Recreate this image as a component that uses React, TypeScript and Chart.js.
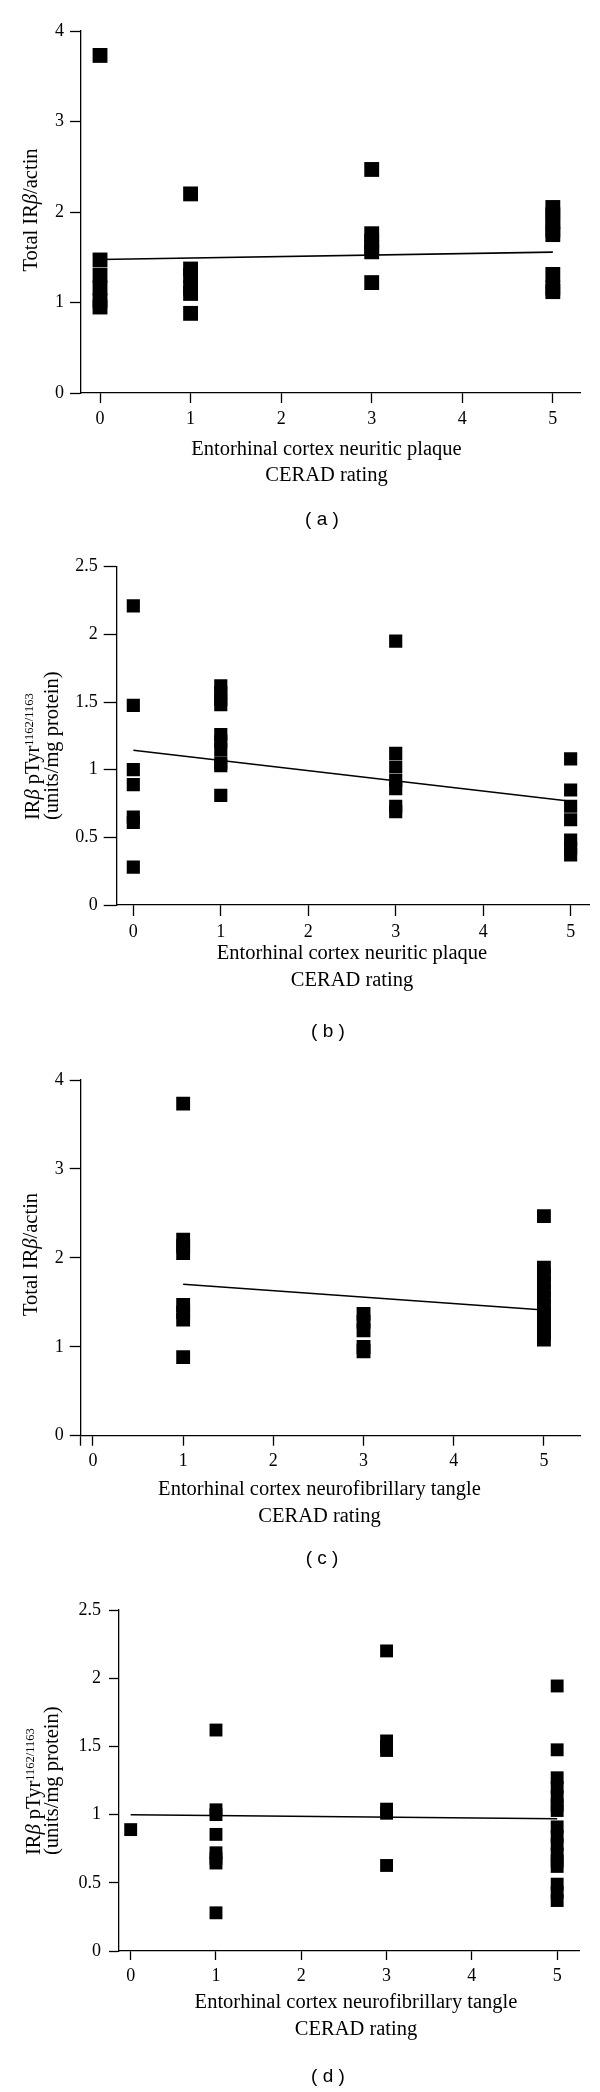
import React, { useEffect, useRef } from 'react';
import { Chart, registerables } from 'chart.js';

Chart.register(...registerables);

const SERIF = '"Liberation Serif", "Times New Roman", serif';
const SANS = '"Liberation Sans", Arial, sans-serif';

// ---- shared tick values ----
const xTickValues = [0, 1, 2, 3, 4, 5];
const yTicksTotal = [0, 1, 2, 3, 4];
const yTicksPTyr = [0, 0.5, 1, 1.5, 2, 2.5];

// ---- axis titles ----
const xTitlePlaque = ['Entorhinal cortex neuritic plaque', 'CERAD rating'];
const xTitleTangle = ['Entorhinal cortex neurofibrillary tangle', 'CERAD rating'];

type Seg = { t: string; italic?: boolean; sup?: boolean };
const yTitleTotal: Seg[][] = [[{ t: 'Total IR' }, { t: 'β', italic: true }, { t: '/actin' }]];
const yTitlePTyr: Seg[][] = [
  [{ t: 'IR' }, { t: 'β', italic: true }, { t: ' pTyr' }, { t: '1162/1163', sup: true }],
  [{ t: '(units/mg protein)' }],
];

// ---- (a) total IRβ vs neuritic plaque rating ----
const aRating0 = [3.73, 1.47, 1.3, 1.16, 1.02, 0.95];
const aRating1 = [2.2, 1.37, 1.3, 1.16, 1.1, 0.88];
const aRating3 = [2.47, 1.76, 1.68, 1.61, 1.56, 1.22];
const aRating5 = [2.05, 1.97, 1.89, 1.8, 1.75, 1.31, 1.16, 1.12];
const aFitX = [0, 5];
const aFitY = [1.475, 1.557];

// ---- (b) IRβ pTyr vs neuritic plaque rating ----
const bRating0 = [2.21, 1.475, 1.0, 0.89, 0.65, 0.61, 0.28];
const bRating1 = [1.62, 1.57, 1.52, 1.48, 1.26, 1.21, 1.15, 1.05, 1.03, 0.81];
const bRating3 = [1.95, 1.12, 1.02, 0.92, 0.86, 0.73, 0.69];
const bRating5 = [1.08, 0.85, 0.73, 0.63, 0.48, 0.42, 0.37];
const bFitX = [0, 5];
const bFitY = [1.144, 0.767];

// ---- (c) total IRβ vs neurofibrillary tangle rating ----
const cRating1 = [3.735, 2.205, 2.13, 2.055, 1.47, 1.39, 1.305, 0.883];
const cRating3 = [1.37, 1.28, 1.186, 0.998, 0.95];
const cRating5 = [2.469, 1.89, 1.81, 1.72, 1.63, 1.55, 1.46, 1.38, 1.3, 1.22, 1.15, 1.08];
const cFitX = [1, 5];
const cFitY = [1.703, 1.414];

// ---- (d) IRβ pTyr vs neurofibrillary tangle rating ----
const dRating0 = [0.89];
const dRating1 = [1.62, 1.035, 1.0, 0.855, 0.72, 0.68, 0.645, 0.28];
const dRating3 = [2.2, 1.54, 1.5, 1.47, 1.04, 1.01, 0.627];
const dRating5 = [1.943, 1.475, 1.27, 1.2, 1.13, 1.07, 1.03, 0.91, 0.84, 0.78, 0.71, 0.66, 0.62, 0.49, 0.43, 0.37];
const dFitX = [0, 5];
const dFitY = [0.999, 0.97];

type PanelCfg = {
  key: string;
  top: number;
  height: number;
  area: { left: number; top: number; right: number; bottom: number };
  xMin: number;
  xMax: number;
  yMax: number;
  yTicks: number[];
  minTick: boolean;
  series: [number, number[]][];
  fitX: number[];
  fitY: number[];
  radius: number;
  yTickLen: number;
  xTickLen: number;
  yLabelPad: number;
  yTitle: Seg[][];
  yTitleBaselines: number[];
  yTitleAnchor: number;
  yTitleAlign: 'center' | 'start';
  xTitle: string[];
  xTitleX: number;
  xTitleY: number;
  label: string;
  labelX: number;
  labelY: number;
};

const panels: PanelCfg[] = [
  {
    key: 'a', top: 0, height: 530,
    area: { left: 81, top: 31, right: 580, bottom: 393 },
    xMin: -0.21, xMax: 5.3, yMax: 4, yTicks: yTicksTotal, minTick: false,
    series: [[0, aRating0], [1, aRating1], [3, aRating3], [5, aRating5]],
    fitX: aFitX, fitY: aFitY, radius: 10.5, yTickLen: 11, xTickLen: 10, yLabelPad: 6,
    yTitle: yTitleTotal, yTitleBaselines: [37], yTitleAnchor: 210, yTitleAlign: 'center',
    xTitle: xTitlePlaque, xTitleX: 326.5, xTitleY: 449.5,
    label: '( a )', labelX: 322, labelY: 519,
  },
  {
    key: 'b', top: 530, height: 520,
    area: { left: 116.7, top: 36.7, right: 589, bottom: 375 },
    xMin: -0.19, xMax: 5.21, yMax: 2.5, yTicks: yTicksPTyr, minTick: false,
    series: [[0, bRating0], [1, bRating1], [3, bRating3], [5, bRating5]],
    fitX: bFitX, fitY: bFitY, radius: 9.3, yTickLen: 13, xTickLen: 11, yLabelPad: 6,
    yTitle: yTitlePTyr, yTitleBaselines: [39, 58], yTitleAnchor: 290, yTitleAlign: 'start',
    xTitle: xTitlePlaque, xTitleX: 352, xTitleY: 424,
    label: '( b )', labelX: 328, labelY: 1031,
  },
  {
    key: 'c', top: 1050, height: 520,
    area: { left: 80.7, top: 30, right: 580, bottom: 385.7 },
    xMin: -0.136, xMax: 5.4, yMax: 4, yTicks: yTicksTotal, minTick: true,
    series: [[1, cRating1], [3, cRating3], [5, cRating5]],
    fitX: cFitX, fitY: cFitY, radius: 9.8, yTickLen: 11, xTickLen: 10, yLabelPad: 6,
    yTitle: yTitleTotal, yTitleBaselines: [37], yTitleAnchor: 204.5, yTitleAlign: 'center',
    xTitle: xTitleTangle, xTitleX: 319.5, xTitleY: 440,
    label: '( c )', labelX: 322, labelY: 1558,
  },
  {
    key: 'd', top: 1570, height: 522,
    area: { left: 119, top: 40, right: 579, bottom: 381 },
    xMin: -0.137, xMax: 5.256, yMax: 2.5, yTicks: yTicksPTyr, minTick: false,
    series: [[0, dRating0], [1, dRating1], [3, dRating3], [5, dRating5]],
    fitX: dFitX, fitY: dFitY, radius: 9.1, yTickLen: 10, xTickLen: 9, yLabelPad: 8,
    yTitle: yTitlePTyr, yTitleBaselines: [40, 58], yTitleAnchor: 285, yTitleAlign: 'start',
    xTitle: xTitleTangle, xTitleX: 356, xTitleY: 433,
    label: '( d )', labelX: 328, labelY: 2076,
  },
];

const TITLE_SIZE = 20.5;
const TITLE_LH = 26.6;

const richTitles = {
  id: 'richTitles',
  afterDraw(chart: any, _args: any, opts: any) {
    const ctx: CanvasRenderingContext2D = chart.ctx;
    const supSize = 12.5;
    const supRise = 6;
    const fontFor = (s: Seg) => `${s.italic ? 'italic ' : ''}${s.sup ? supSize : TITLE_SIZE}px ${SERIF}`;
    ctx.save();
    ctx.fillStyle = '#000';
    // x-axis title (centered lines)
    ctx.textAlign = 'center';
    ctx.textBaseline = 'middle';
    ctx.font = `${TITLE_SIZE}px ${SERIF}`;
    (opts.xLines as string[]).forEach((line, i) => {
      ctx.fillText(line, opts.xX, opts.xY + i * TITLE_LH);
    });
    // y-axis title (rotated, mixed styles)
    ctx.textBaseline = 'alphabetic';
    ctx.textAlign = 'left';
    (opts.yLines as Seg[][]).forEach((segs, i) => {
      let w = 0;
      segs.forEach((s) => {
        ctx.font = fontFor(s);
        w += ctx.measureText(s.t).width;
      });
      ctx.save();
      ctx.translate(opts.yBaselines[i], opts.yAnchor);
      ctx.rotate(-Math.PI / 2);
      let x = opts.yAlign === 'center' ? -w / 2 : 0;
      segs.forEach((s) => {
        ctx.font = fontFor(s);
        ctx.fillText(s.t, x, s.sup ? -supRise : 0);
        x += ctx.measureText(s.t).width;
      });
      ctx.restore();
    });
    ctx.restore();
  },
};

function Panel({ cfg }: { cfg: PanelCfg }) {
  const ref = useRef<HTMLCanvasElement | null>(null);
  useEffect(() => {
    if (!ref.current) return;
    const points: { x: number; y: number }[] = [];
    cfg.series.forEach(([rating, vals]) => vals.forEach((v) => points.push({ x: rating, y: v })));
    const fit = cfg.fitX.map((x, i) => ({ x, y: cfg.fitY[i] }));
    const { area, height } = cfg;
    const chart = new Chart(ref.current, {
      type: 'scatter',
      data: {
        datasets: [
          {
            data: points,
            pointStyle: 'rect',
            pointRadius: cfg.radius,
            pointHoverRadius: cfg.radius,
            backgroundColor: '#000',
            borderColor: '#000',
            borderWidth: 0,
          } as any,
          {
            data: fit,
            showLine: true,
            borderColor: '#000',
            borderWidth: 1.6,
            pointRadius: 0,
            fill: false,
          } as any,
        ],
      },
      options: {
        animation: false,
        responsive: false,
        devicePixelRatio: 1,
        events: [],
        layout: { padding: { top: area.top, right: 600 - area.right, left: 0, bottom: 0 } },
        plugins: {
          legend: { display: false },
          tooltip: { enabled: false },
          richTitles: {
            xLines: cfg.xTitle,
            xX: cfg.xTitleX,
            xY: cfg.xTitleY,
            yLines: cfg.yTitle,
            yBaselines: cfg.yTitleBaselines,
            yAnchor: cfg.yTitleAnchor,
            yAlign: cfg.yTitleAlign,
          },
        } as any,
        scales: {
          x: {
            type: 'linear',
            position: 'bottom',
            min: cfg.xMin,
            max: cfg.xMax,
            afterBuildTicks: (s: any) => {
              const vals = cfg.minTick ? [cfg.xMin, ...xTickValues] : xTickValues;
              s.ticks = vals.map((v) => ({ value: v }));
            },
            afterFit: (s: any) => {
              s.height = height - area.bottom;
            },
            grid: {
              display: true,
              drawOnChartArea: false,
              drawTicks: true,
              tickLength: cfg.xTickLen,
              tickWidth: 1.3,
              tickColor: '#000',
            },
            border: { display: true, color: '#000', width: 1.3 },
            ticks: {
              color: '#000',
              font: { family: SERIF, size: 18 },
              padding: 5,
              maxRotation: 0,
              autoSkip: false,
              callback: (v: any) => (xTickValues.includes(v) ? String(v) : ''),
            },
            title: { display: false },
          },
          y: {
            type: 'linear',
            min: 0,
            max: cfg.yMax,
            afterBuildTicks: (s: any) => {
              s.ticks = cfg.yTicks.map((v) => ({ value: v }));
            },
            afterFit: (s: any) => {
              s.width = area.left;
            },
            grid: {
              display: true,
              drawOnChartArea: false,
              drawTicks: true,
              tickLength: cfg.yTickLen,
              tickWidth: 1.3,
              tickColor: '#000',
            },
            border: { display: true, color: '#000', width: 1.3 },
            ticks: {
              color: '#000',
              font: { family: SERIF, size: 18 },
              padding: cfg.yLabelPad,
              autoSkip: false,
              callback: (v: any) => String(v),
            },
          },
        },
      } as any,
      plugins: [richTitles as any],
    });
    return () => chart.destroy();
  }, [cfg]);

  return (
    <>
      <canvas
        ref={ref}
        width={600}
        height={cfg.height}
        style={{ position: 'absolute', left: 0, top: cfg.top, width: 600, height: cfg.height }}
      />
      <div
        style={{
          position: 'absolute',
          left: cfg.labelX - 50,
          top: cfg.labelY - 12,
          width: 100,
          height: 24,
          lineHeight: '24px',
          textAlign: 'center',
          fontFamily: SANS,
          fontSize: 19,
          color: '#000',
          whiteSpace: 'pre',
        }}
      >
        {cfg.label}
      </div>
    </>
  );
}

export default function App() {
  return (
    <div style={{ position: 'absolute', left: 0, top: 0, width: 600, height: 2092, background: '#fff' }}>
      {panels.map((p) => (
        <Panel key={p.key} cfg={p} />
      ))}
    </div>
  );
}
